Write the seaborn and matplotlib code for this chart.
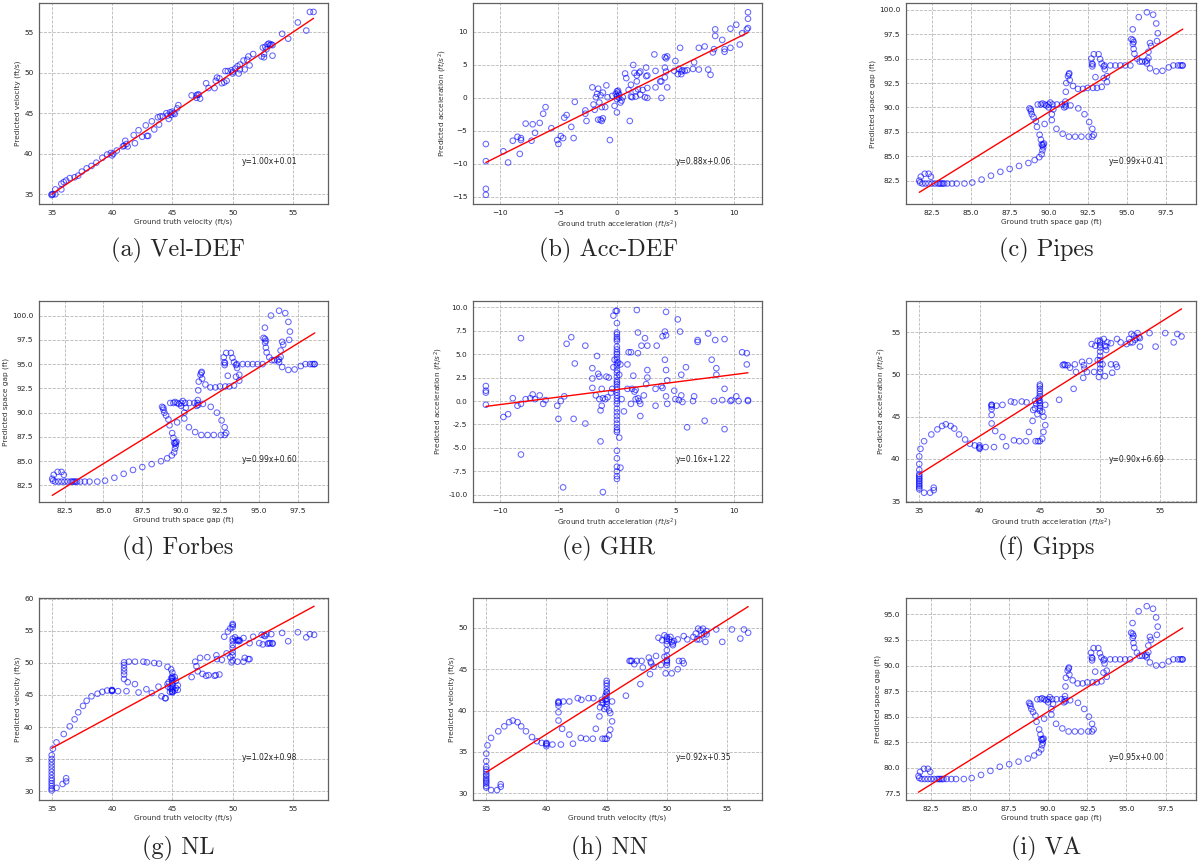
import matplotlib
matplotlib.use("Agg")
import matplotlib.pyplot as plt
from matplotlib.ticker import FormatStrFormatter, MultipleLocator
import numpy as np
import seaborn as sns

sns.set_style("white")
plt.rcParams['font.family'] = ['DejaVu Sans']

# ---------------- (a) Vel-DEF ----------------
veldef_true = [35.0, 35.0, 35.1, 35.3, 35.3, 35.8, 35.8, 36.0, 36.2, 36.5, 36.9, 37.2, 37.5, 37.9, 38.3,
               38.7, 39.2, 39.6, 39.9, 40.0, 40.1, 40.4, 40.9, 41.0, 41.1, 41.2, 41.3, 41.8, 41.9, 42.2,
               42.5, 42.8, 42.9, 43.0, 43.3, 43.5, 43.8, 43.9, 44.0, 44.2, 44.5, 44.6, 44.7, 44.8, 44.9,
               45.0, 45.1, 45.2, 45.4, 45.5, 46.6, 47.0, 47.0, 47.1, 47.3, 47.2, 47.8, 48.0, 48.5, 48.6,
               48.7, 48.9, 49.1, 49.3, 49.5, 49.4, 49.6, 49.9, 50.0, 50.0, 50.2, 50.4, 50.5, 50.6, 50.6,
               50.9, 51.0, 51.2, 51.3, 51.4, 51.7, 52.4, 52.5, 52.6, 52.6, 52.7, 52.8, 52.9, 53.0, 53.1,
               53.2, 53.3, 53.3, 54.1, 54.6, 55.4, 56.1, 56.4, 56.7]
veldef_pred = [35.0, 34.9, 35.0, 35.0, 35.6, 35.6, 36.3, 36.5, 36.7, 37.0, 37.1, 37.3, 37.8, 38.2, 38.5,
               38.9, 39.5, 39.9, 40.1, 39.8, 40.0, 40.4, 40.9, 41.0, 41.6, 41.2, 40.9, 42.3, 41.3, 42.9,
               42.1, 43.5, 42.2, 42.2, 44.0, 43.0, 44.5, 43.6, 44.6, 44.6, 45.0, 44.7, 44.3, 45.1, 44.8,
               45.2, 45.0, 44.9, 45.6, 46.0, 47.2, 46.9, 47.2, 47.3, 46.8, 47.3, 48.7, 48.1, 48.1, 49.0,
               49.4, 49.3, 48.7, 48.8, 49.0, 50.2, 50.2, 50.3, 50.1, 49.9, 50.5, 50.8, 49.9, 51.0, 50.4,
               51.5, 50.4, 51.6, 52.0, 50.9, 52.3, 52.0, 53.1, 52.3, 51.9, 53.2, 52.9, 53.5, 53.6, 53.4,
               53.5, 52.1, 53.4, 54.8, 54.2, 56.2, 55.2, 57.5, 57.5]

# ---------------- (b) Acc-DEF ----------------
accdef_true = [-11.2, -11.2, -11.2, -11.2, -9.7, -9.3, -8.9, -8.5, -8.2, -8.2, -8.3, -7.8, -7.3, -7.2, -7.0,
               -6.6, -6.3, -6.1, -5.6, -5.1, -5.0, -4.8, -4.6, -4.5, -4.3, -3.9, -3.7, -3.6, -2.7, -2.7,
               -2.6, -2.1, -2.0, -1.9, -1.8, -1.7, -1.6, -1.6, -1.5, -1.4, -1.4, -1.3, -1.3, -1.2, -1.2,
               -1.0, -0.9, -0.8, -0.6, -0.4, -0.2, -0.1, 0.0, 0.0, 0.0, 0.0, 0.1, 0.1, 0.2, 0.2,
               0.3, 0.4, 0.5, 0.7, 0.8, 1.0, 1.1, 1.2, 1.2, 1.3, 1.4, 1.5, 1.6, 1.6, 1.7,
               1.7, 1.8, 1.9, 2.0, 2.0, 2.2, 2.4, 2.5, 2.5, 2.6, 2.6, 2.6, 3.2, 3.3, 3.3,
               3.7, 3.8, 3.8, 4.1, 4.1, 4.1, 4.2, 4.3, 4.3, 4.2, 4.9, 5.0, 5.2, 5.3, 5.4,
               5.5, 5.5, 5.6, 5.8, 6.0, 6.5, 6.6, 7.0, 7.0, 7.5, 7.8, 8.0, 8.2, 8.4, 8.4,
               8.3, 9.0, 9.2, 9.2, 9.7, 9.7, 10.2, 10.5, 10.7, 11.1, 11.2, 11.2, 11.2]
accdef_pred = [-7.0, -9.6, -13.8, -14.7, -8.1, -9.8, -6.5, -5.9, -6.1, -6.4, -8.5, -3.9, -6.5, -4.0, -5.3,
               -3.8, -2.4, -1.4, -4.6, -6.4, -7.0, -5.8, -6.1, -3.0, -2.6, -4.4, -6.1, -0.6, -1.9, -2.4,
               -3.5, 1.6, -1.0, -1.8, 0.1, 0.6, 1.4, -3.3, -0.7, 0.4, -3.3, -1.4, -3.5, 0.8, -3.1,
               -1.4, 1.9, 0.1, -6.4, 0.3, -1.2, 0.6, 1.0, 0.2, -0.2, -2.2, 1.1, 0.8, 0.5, 0.0,
               -0.7, -0.4, 0.1, 3.7, 3.0, 1.2, -3.5, 2.0, 0.2, 0.1, 5.0, 3.8, 0.2, 1.0, 3.4,
               2.5, 1.3, 3.8, 0.5, 4.0, 1.2, 0.1, 4.6, 3.3, 1.5, 0.0, 3.4, 6.6, 1.6, 4.1,
               2.5, 2.5, 0.0, 3.1, 4.6, 6.2, 6.0, 6.3, 1.6, 4.0, 4.1, 5.6, 3.6, 4.4, 7.6,
               3.6, 4.0, 4.2, 4.1, 4.2, 4.4, 5.4, 7.6, 4.3, 7.8, 4.3, 3.5, 6.9, 10.4, 9.4,
               7.4, 8.8, 7.4, 7.0, 7.6, 10.5, 11.1, 8.1, 9.8, 10.4, 10.6, 12.0, 13.0]

# ---------------- (c) Pipes, (d) Forbes, (i) VA: shared ground-truth space gap ----------------
gap_true = [81.70, 81.80, 82.05, 82.30, 82.45, 81.75, 81.90, 82.10, 82.30, 82.50,
            82.70, 82.90, 83.00, 83.10, 83.20, 83.30, 83.50, 83.80, 84.10, 84.60,
            85.10, 85.70, 86.30, 86.90, 87.50, 88.10, 88.70, 89.10, 89.40, 89.55,
            89.60, 89.65, 89.60, 89.65, 89.70, 89.55, 89.50, 89.42, 89.25, 89.18,
            89.03, 88.92, 88.86, 88.77, 88.85, 89.74, 89.30, 89.50, 89.60, 89.74,
            89.85, 90.00, 90.00, 90.10, 90.25, 90.30, 90.53, 90.85, 90.20, 90.20,
            90.50, 90.90, 91.30, 91.70, 92.10, 92.56, 92.80, 92.90, 92.80, 92.60,
            92.30, 91.90, 91.40, 91.00, 91.05, 91.10, 91.07, 91.10, 91.13, 91.24,
            91.30, 91.32, 91.35, 91.56, 91.88, 92.20, 92.50, 92.84, 93.10, 93.40,
            92.80, 92.82, 92.78, 92.74, 92.90, 93.20, 93.30, 93.40, 93.53, 93.58,
            93.60, 93.74, 93.74, 93.53, 93.00, 93.96, 94.28, 94.60, 94.92, 95.24,
            95.30, 95.40, 95.45, 95.40, 95.45, 95.50, 95.67, 95.84, 96.00, 96.20,
            96.30, 95.39, 95.78, 96.30, 96.70, 96.90, 97.00, 96.95, 96.50, 96.57,
            96.40, 96.40, 96.30, 96.50, 96.90, 97.30, 97.70, 98.00, 98.30, 98.45,
            98.56, 98.60]
pipes_pred = [82.5, 82.9, 83.2, 83.2, 82.9, 82.3, 82.2, 82.2, 82.2, 82.2,
              82.2, 82.2, 82.2, 82.2, 82.2, 82.2, 82.2, 82.2, 82.2, 82.2,
              82.3, 82.6, 83.0, 83.4, 83.7, 84.0, 84.3, 84.6, 84.9, 85.2,
              85.6, 85.9, 86.1, 86.2, 86.3, 86.2, 86.7, 87.2, 88.0, 88.6,
              89.0, 89.3, 89.6, 89.9, 89.8, 88.3, 90.3, 90.3, 90.4, 90.3,
              90.2, 90.3, 90.0, 90.5, 90.3, 89.8, 90.3, 90.3, 89.3, 88.7,
              87.8, 87.3, 87.0, 87.0, 87.0, 87.0, 87.0, 87.2, 87.8, 88.5,
              89.3, 89.9, 90.2, 90.0, 90.3, 90.1, 90.6, 91.6, 92.5, 93.2,
              93.4, 93.5, 92.8, 92.2, 91.9, 91.9, 92.0, 92.0, 92.0, 92.1,
              94.2, 94.4, 94.5, 95.0, 95.45, 95.45, 94.95, 94.5, 94.2, 94.3,
              93.9, 93.2, 92.6, 93.0, 93.1, 94.3, 94.3, 94.3, 94.3, 94.3,
              97.0, 96.9, 96.7, 96.5, 96.0, 95.5, 95.0, 94.7, 94.7, 94.7,
              94.8, 98.0, 99.25, 99.75, 99.5, 98.6, 97.6, 96.8, 96.6, 96.3,
              95.7, 95.05, 94.5, 94.0, 93.7, 93.75, 94.1, 94.3, 94.3, 94.3,
              94.3, 94.3]
forbes_pred = [83.2, 83.6, 83.9, 83.9, 83.6, 83.0, 82.9, 82.9, 82.9, 82.9,
               82.9, 82.9, 82.9, 82.9, 82.9, 82.9, 82.9, 82.9, 82.9, 82.9,
               83.0, 83.3, 83.7, 84.1, 84.4, 84.7, 85.0, 85.3, 85.6, 85.9,
               86.3, 86.6, 86.8, 86.9, 87.0, 86.9, 87.4, 87.9, 88.7, 89.3,
               89.7, 90.0, 90.3, 90.6, 90.5, 89.0, 91.0, 91.0, 91.1, 91.0,
               90.9, 91.0, 90.7, 91.2, 91.0, 90.5, 91.0, 91.0, 90.0, 89.4,
               88.5, 88.0, 87.7, 87.7, 87.7, 87.7, 87.7, 87.9, 88.5, 89.2,
               90.0, 90.6, 90.9, 90.7, 91.0, 90.8, 91.3, 92.3, 93.2, 93.9,
               94.1, 94.2, 93.5, 92.9, 92.6, 92.6, 92.7, 92.7, 92.7, 92.8,
               94.9, 95.1, 95.2, 95.7, 96.15, 96.15, 95.65, 95.2, 94.9, 95.0,
               94.6, 93.9, 93.3, 93.7, 93.8, 95.0, 95.0, 95.0, 95.0, 95.0,
               97.7, 97.6, 97.4, 97.2, 96.7, 96.2, 95.7, 95.4, 95.4, 95.4,
               95.5, 98.75, 100.0, 100.5, 100.25, 99.35, 98.35, 97.5, 97.3, 97.0,
               96.4, 95.75, 95.2, 94.7, 94.4, 94.45, 94.8, 95.0, 95.0, 95.0,
               95.0, 95.0]
va_pred = [79.2, 79.6, 79.9, 79.9, 79.6, 79.0, 78.9, 78.9, 78.9, 78.9,
           78.9, 78.9, 78.9, 78.9, 78.9, 78.9, 78.9, 78.9, 78.9, 78.9,
           79.0, 79.3, 79.7, 80.1, 80.35, 80.6, 80.9, 81.2, 81.5, 81.8,
           82.2, 82.45, 82.7, 82.8, 82.85, 82.8, 83.25, 83.75, 84.5, 85.1,
           85.45, 85.75, 86.05, 86.35, 86.25, 84.8, 86.7, 86.7, 86.8, 86.7,
           86.6, 86.7, 86.4, 86.9, 86.7, 86.25, 86.7, 86.7, 85.75, 85.2,
           84.3, 83.85, 83.55, 83.55, 83.55, 83.55, 83.55, 83.75, 84.3, 85.0,
           85.75, 86.35, 86.6, 86.4, 86.7, 86.5, 87.0, 87.95, 88.8, 89.5,
           89.7, 89.8, 89.1, 88.55, 88.25, 88.25, 88.35, 88.35, 88.35, 88.45,
           90.5, 90.7, 90.8, 91.25, 91.7, 91.7, 91.2, 90.8, 90.5, 90.6,
           90.2, 89.5, 88.9, 89.3, 89.4, 90.6, 90.6, 90.6, 90.6, 90.6,
           93.2, 93.1, 92.9, 92.7, 92.2, 91.75, 91.25, 90.95, 90.95, 90.95,
           91.05, 94.15, 95.3, 95.8, 95.55, 94.7, 93.8, 93.0, 92.8, 92.5,
           91.95, 91.3, 90.8, 90.3, 90.0, 90.05, 90.4, 90.6, 90.6, 90.6,
           90.6, 90.6]

# ---------------- (e) GHR ----------------
ghr_true = [-11.2, -11.2, -11.2, -11.2, -9.7, -9.3, -8.9, -8.5, -8.2, -8.2, -8.2, -7.8, -7.4, -7.2, -7.0,
            -6.6, -6.3, -6.1, -5.1, -5.0, -4.8, -4.6, -4.5, -4.3, -3.9, -3.7, -3.6, -2.7, -2.7, -2.1,
            -2.1, -2.1, -1.8, -1.7, -1.6, -1.5, -1.5, -1.4, -1.4, -1.3, -1.3, -1.2, -1.2, -1.0, -0.9,
            -0.8, -0.7, -0.5, -0.4, -0.3, -0.3, -0.2, -0.1, 0.1, 0.2, 0.2, 0.3, 0.3, 0.4, 0.6,
            0.9, 0.9, 1.0, 1.2, 1.2, 1.3, 1.4, 1.5, 1.6, 1.6, 1.7, 1.8, 1.8, 1.8, 1.9,
            2.0, 2.0, 2.1, 2.3, 2.4, 2.6, 2.6, 2.6, 2.5, 3.3, 3.3, 3.4, 3.8, 3.9, 3.9,
            4.1, 4.2, 4.2, 4.1, 4.2, 4.3, 4.2, 4.3, 4.9, 5.0, 5.2, 5.3, 5.4, 5.5, 5.5,
            5.6, 5.9, 6.0, 6.5, 6.6, 6.9, 6.9, 7.5, 7.8, 8.1, 8.3, 8.4, 8.5, 8.5, 9.0,
            9.2, 9.2, 9.2, 9.7, 9.8, 10.2, 10.4, 10.7, 11.1, 11.1, 11.2, 11.2,
            0.0, 0.0, 0.0, 0.0, 0.0, 0.0, 0.0, 0.0, 0.0, 0.0, 0.0, 0.0, 0.0, 0.0,
            0.0, 0.0, 0.0, 0.0, 0.0, 0.0, 0.0, 0.0, 0.0, 0.0, 0.0, 0.0, 0.0, 0.0,
            0.0, 0.0, 0.0, 0.0, 0.0, 0.0, 0.0, 0.0, 0.0, 0.0, 0.0, 0.0, 0.0, 0.0]
ghr_pred = [1.6, 1.1, 0.9, -0.4, -1.7, -1.4, 0.3, -0.5, 6.7, -5.7, -0.3, 0.2, 0.3, 0.7, 0.2,
            0.6, -0.3, 0.1, -0.5, -1.9, 0.0, -9.2, 0.5, 6.1, 6.8, -1.9, 4.0, 5.9, -2.4, 3.5,
            2.4, 1.4, 0.6, 4.8, 2.9, 2.6, 0.2, -4.3, -1.0, 1.3, -0.5, 0.3, -9.7, 0.2, 2.6,
            0.4, 2.5, 0.9, 1.3, 9.1, 3.6, 4.4, 9.6, 4.1, 2.8, -3.9, 3.9, -7.1, 0.2, -1.1,
            3.9, 1.3, 5.2, 5.2, -0.3, 1.3, 2.7, 1.0, 0.2, 1.2, 9.7, 7.3, 5.1, 0.3, 0.0,
            -0.3, -1.6, 5.9, 0.6, 6.7, 5.9, 3.3, 2.5, 1.8, 1.3, -0.5, 5.9, 1.6, 1.4, 6.9,
            7.4, 9.5, 7.0, 4.4, 3.3, 2.2, 0.5, -0.3, 1.1, 0.2, 8.7, 0.1, 7.4, 0.6, 2.8,
            -0.1, 3.6, -2.8, 0.0, 0.5, 6.5, 6.3, -2.1, 7.2, 4.4, 0.0, 6.5, 3.5, 2.8, 0.1,
            6.6, 1.3, -3.0, 0.0, 0.1, 0.5, 0.0, 5.2, 5.1, 3.9, 0.1, 0.0,
            9.6, 8.3, 7.3, 7.1, 6.8, 6.6, 6.4, 5.8, 5.5, 5.2, 5.0, 4.7, 4.4, 4.0,
            3.7, 3.3, 3.0, 2.6, 2.2, 2.0, 1.8, 1.5, 1.2, 0.9, 0.6, 0.3, 0.0, -0.3,
            -0.8, -1.2, -1.6, -2.0, -2.4, -2.8, -3.1, -3.3, -5.3, -6.1, -7.0, -7.5, -8.0, -8.3]

# ---------------- (f) Gipps, (g) NL, (h) NN: shared ground-truth velocity ----------------
vel_true = [35.1, 35.0, 35.0, 35.0, 35.0, 35.0, 35.0, 35.0, 35.0, 35.0, 35.0, 35.0, 35.0, 35.0,
            35.4, 35.9, 36.2, 36.2,
            35.4, 36.0, 36.5, 36.9, 37.2, 37.6, 37.9, 38.3, 38.8, 39.2, 39.6, 40.0, 40.0, 40.0, 40.0, 40.5,
            41.2, 41.3, 41.0, 41.0, 41.0, 41.0, 41.0, 41.0, 41.4, 41.9,
            42.6, 42.9, 43.5, 43.9, 44.6, 44.9, 45.0,
            45.0, 45.0, 45.0, 45.0, 45.0, 45.0, 45.0, 45.0, 45.0, 45.0,
            41.9, 42.2, 42.85, 43.3, 43.85, 44.1, 44.4, 44.45, 44.65, 44.85, 45.0, 45.2, 45.3, 45.45, 45.3, 45.45, 45.2,
            44.7, 44.8, 44.6, 44.9,
            46.6, 46.9, 47.0, 47.1, 47.3, 47.5, 47.8, 47.9, 48.0, 48.5, 48.6, 48.65, 48.7, 48.9, 49.1, 49.3,
            49.5, 49.6, 49.8, 49.8, 49.9,
            50.0, 50.0, 50.0, 50.0, 50.0, 50.0, 50.0, 50.0, 50.0, 50.0,
            50.2, 50.3, 50.4, 50.4, 50.5, 50.5, 50.6, 50.9, 50.9, 51.0, 51.3, 51.4, 51.4, 51.7,
            52.2, 52.4, 52.5, 52.6, 52.7, 52.8, 52.9, 53.0, 53.1, 53.2, 53.3, 53.3, 54.1, 54.6, 55.4, 56.1,
            56.4, 56.75]
gipps_pred = [41.2, 40.3, 39.4, 38.7, 38.2, 38.0, 37.8, 37.6, 37.4, 37.2, 37.0, 36.8, 36.6, 36.4,
              36.0, 36.0, 36.3, 36.6,
              42.1, 42.9, 43.5, 43.9, 44.1, 43.9, 43.6, 42.9, 42.3, 41.8, 41.6, 41.6, 41.4, 41.3, 41.2, 41.4,
              41.4, 43.3, 44.2, 45.2, 45.9, 46.2, 46.4, 46.4, 46.3, 46.4,
              46.8, 46.7, 46.8, 46.7, 46.9, 47.2, 47.7,
              48.8, 48.6, 48.3, 48.0, 47.4, 46.9, 46.6, 46.3, 46.0, 45.7,
              42.6, 41.5, 42.2, 42.1, 42.1, 43.2, 44.5, 45.8, 42.1, 42.1, 42.1, 42.4, 43.2, 44.0, 45.0, 46.4, 45.6,
              46.5, 45.3, 46.0, 46.9,
              47.0, 51.1, 51.2, 51.1, 51.1, 50.8, 48.3, 51.2, 50.3, 51.5, 49.6, 51.1, 50.7, 50.3, 51.6, 53.6,
              50.3, 53.4, 54.0, 51.7, 49.7,
              54.0, 53.8, 53.5, 53.2, 52.7, 52.2, 51.7, 51.2, 50.7, 50.3,
              51.2, 54.2, 49.8, 53.4, 52.9, 53.3, 53.8, 53.7, 51.2, 50.2, 51.2, 50.9, 54.2, 53.8,
              53.6, 54.2, 53.8, 54.8, 53.8, 54.6, 54.1, 54.3, 54.9, 54.4, 53.3, 54.3, 54.9, 53.3, 54.9, 53.8,
              54.8, 54.5]
nl_pred = [36.6, 35.6, 35.0, 34.5, 34.0, 33.5, 33.0, 32.5, 32.0, 31.6, 31.2, 30.8, 30.4, 30.1,
           30.5, 31.1, 31.5, 32.0,
           37.6, 38.9, 40.1, 41.2, 42.3, 43.3, 44.1, 44.8, 45.2, 45.5, 45.7, 45.7, 45.6, 45.7, 45.8, 45.6,
           45.6, 47.0, 47.5, 48.2, 48.7, 49.2, 49.7, 50.1, 50.2, 50.2,
           50.2, 50.1, 50.0, 49.9, 49.4, 49.0, 48.5,
           47.9, 47.7, 47.5, 47.2, 46.9, 46.6, 46.2, 45.9, 45.6, 45.4,
           46.7, 45.4, 45.9, 45.3, 46.3, 44.8, 44.5, 44.5, 46.3, 46.0, 45.5, 45.7, 46.1, 45.8, 47.2, 46.5, 47.8,
           47.0, 45.5, 46.7, 47.6,
           47.8, 50.2, 49.5, 48.7, 50.8, 48.3, 48.0, 50.9, 48.1, 48.0, 48.1, 51.2, 50.6, 48.2, 50.5, 54.1,
           51.5, 54.9, 55.4, 50.9, 50.1,
           56.1, 55.9, 55.6, 53.8, 53.4, 52.8, 52.3, 51.7, 51.2, 50.4,
           54.0, 53.6, 50.2, 53.5, 53.4, 53.6, 53.5, 53.9, 50.2, 50.8, 50.6, 50.6, 53.1, 54.1,
           53.1, 54.4, 52.9, 54.3, 54.2, 54.5, 53.0, 53.1, 53.1, 54.5, 53.1, 53.0, 54.7, 53.4, 54.8, 54.0,
           54.5, 54.4]
nn_pred = [35.8, 34.8, 33.9, 33.2, 32.9, 32.6, 32.3, 32.1, 31.8, 31.6, 31.4, 31.2, 30.9, 30.7,
           30.4, 30.4, 30.8, 31.1,
           36.7, 37.5, 38.1, 38.6, 38.8, 38.6, 38.1, 37.5, 36.8, 36.3, 36.1, 36.1, 35.9, 35.7, 36.0, 35.9,
           35.9, 37.8, 38.8, 39.8, 40.6, 40.9, 41.0, 41.1, 41.1, 41.1,
           41.5, 41.3, 41.5, 41.5, 41.3, 41.8, 42.2,
           43.6, 43.3, 43.0, 42.6, 42.2, 41.8, 41.4, 41.1, 40.8, 40.4,
           37.1, 36.0, 36.7, 36.6, 36.6, 37.8, 39.3, 40.4, 36.6, 36.6, 36.6, 37.0, 37.7, 38.7, 39.7, 41.1, 40.0,
           41.0, 40.2, 40.9, 41.3,
           41.8, 46.0, 46.0, 46.0, 45.6, 46.0, 43.2, 46.0, 45.2, 46.4, 44.4, 45.9, 45.7, 45.3, 46.6, 48.8,
           45.5, 48.5, 49.1, 46.5, 44.5,
           48.9, 48.7, 48.4, 48.0, 47.3, 46.6, 46.0, 45.5, 46.1, 45.8,
           48.6, 48.9, 44.5, 48.3, 47.9, 48.1, 48.4, 48.6, 45.0, 46.0, 46.0, 45.7, 49.0, 48.6,
           48.9, 49.3, 48.6, 49.9, 48.6, 49.7, 49.1, 49.9, 49.3, 48.3, 49.6, 49.2, 49.8, 48.3, 49.8, 48.7,
           49.8, 49.4]

# fitted line coefficients shown in each panel
slopes = [1.00, 0.88, 0.99, 0.99, 0.16, 0.90, 1.02, 0.92, 0.95]
intercepts = [0.01, 0.06, 0.41, 0.60, 1.22, 6.69, 0.98, 0.35, 0.00]
captions = ["(a) Vel-DEF", "(b) Acc-DEF", "(c) Pipes", "(d) Forbes", "(e) GHR",
            "(f) Gipps", "(g) NL", "(h) NN", "(i) VA"]

VEL_X = "Ground truth velocity (ft/s)"
VEL_Y = "Predicted velocity (ft/s)"
ACC_X = "Ground truth acceleration ($ft/s^2$)"
ACC_Y = "Predicted acceleration ($ft/s^2$)"
GAP_X = "Ground truth space gap (ft)"
GAP_Y = "Predicted space gap (ft)"

W, H = 1198, 863
fig = plt.figure(figsize=(W / 100, H / 100), dpi=100)

col_px = [(39, 289), (473, 289), (906, 290)]
row_px = [(3, 201), (301, 201), (598, 202)]
cap_x = [178, 609, 1046]
cap_y = [250, 548, 848]

panels = [
    dict(x=veldef_true, y=veldef_pred, xl=VEL_X, yl=VEL_Y, xlim=(33.95, 57.9), ylim=(33.8, 58.6),
         xt=5, yt=5, fmt=None),
    dict(x=accdef_true, y=accdef_pred, xl=ACC_X, yl=ACC_Y, xlim=(-12.3, 12.4), ylim=(-16.1, 14.4),
         xt=5, yt=5, fmt=None),
    dict(x=gap_true, y=pipes_pred, xl=GAP_X, yl=GAP_Y, xlim=(80.85, 99.45), ylim=(80.1, 100.7),
         xt=2.5, yt=2.5, fmt='%.1f'),
    dict(x=gap_true, y=forbes_pred, xl=GAP_X, yl=GAP_Y, xlim=(80.85, 99.45), ylim=(80.8, 101.5),
         xt=2.5, yt=2.5, fmt='%.1f'),
    dict(x=ghr_true, y=ghr_pred, xl=ACC_X, yl=ACC_Y, xlim=(-12.3, 12.4), ylim=(-10.76, 10.66),
         xt=5, yt=2.5, fmt='yonly'),
    dict(x=vel_true, y=gipps_pred, xl=ACC_X, yl=ACC_Y, xlim=(33.9, 57.95), ylim=(34.9, 58.7),
         xt=5, yt=5, fmt=None),
    dict(x=vel_true, y=nl_pred, xl=VEL_X, yl=VEL_Y, xlim=(33.95, 57.9), ylim=(28.6, 60.15),
         xt=5, yt=5, fmt=None),
    dict(x=vel_true, y=nn_pred, xl=VEL_X, yl=VEL_Y, xlim=(33.9, 57.9), ylim=(29.2, 53.6),
         xt=5, yt=5, fmt=None),
    dict(x=gap_true, y=va_pred, xl=GAP_X, yl=GAP_Y, xlim=(80.9, 99.45), ylim=(76.85, 96.6),
         xt=2.5, yt=2.5, fmt='%.1f'),
]

spine_c = '#606060'
for i, p in enumerate(panels):
    r, c = divmod(i, 3)
    lx, wx = col_px[c]
    ty, hy = row_px[r]
    ax = fig.add_axes([lx / W, 1 - (ty + hy) / H, wx / W, hy / H])
    x = np.asarray(p['x'], dtype=float)
    y = np.asarray(p['y'], dtype=float)
    sns.scatterplot(x=x, y=y, ax=ax, s=16, marker='o', facecolor='none',
                    edgecolor='blue', linewidth=0.75, alpha=0.6, legend=False, zorder=3)
    xs = np.array([x.min(), x.max()])
    sns.lineplot(x=xs, y=slopes[i] * xs + intercepts[i], ax=ax, color='red',
                 linewidth=1.0, zorder=4, legend=False)
    ax.set_xlim(*p['xlim'])
    ax.set_ylim(*p['ylim'])
    ax.xaxis.set_major_locator(MultipleLocator(p['xt']))
    ax.yaxis.set_major_locator(MultipleLocator(p['yt']))
    if p['fmt'] == '%.1f':
        ax.xaxis.set_major_formatter(FormatStrFormatter('%.1f'))
        ax.yaxis.set_major_formatter(FormatStrFormatter('%.1f'))
    elif p['fmt'] == 'yonly':
        ax.yaxis.set_major_formatter(FormatStrFormatter('%.1f'))
    ax.grid(True, linestyle='--', color='#b8b8b8', linewidth=0.6, zorder=0)
    ax.set_axisbelow(True)
    for s in ax.spines.values():
        s.set_color(spine_c)
        s.set_linewidth(0.9)
    ax.tick_params(axis='both', labelsize=5.3, length=2.5, width=0.6, color=spine_c,
                   pad=1.5, labelcolor='#222222')
    ax.set_xlabel(p['xl'], fontsize=5.3, labelpad=2, color='#333333')
    ax.set_ylabel(p['yl'], fontsize=5.3, labelpad=2, color='#333333')
    ax.text(0.70, 0.21, f"y={slopes[i]:.2f}x+{intercepts[i]:.2f}", transform=ax.transAxes,
            fontsize=5.5, va='center', ha='left', color='#222222')
    fig.text(cap_x[c] / W, 1 - cap_y[r] / H, captions[i], ha='center', va='center',
             fontsize=17.5, family='cmr10')

fig.savefig("out.png", dpi=100)
